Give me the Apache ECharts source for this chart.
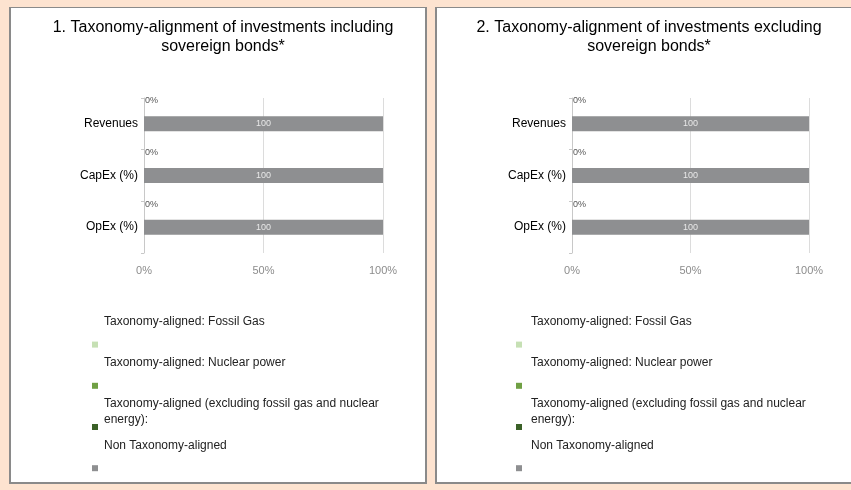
<!DOCTYPE html>
<html>
<head>
<meta charset="utf-8">
<script src="https://cdn.jsdelivr.net/npm/echarts@6/dist/echarts.min.js"></script>
<style>
  html, body { margin: 0; padding: 0; }
  body { width: 851px; height: 490px; background: #fde3d0; position: relative; overflow: hidden; }
  .panel { position: absolute; background: #fff; border: 1px solid #8a8a8a; border-left-width: 2px; border-right-width: 2px; border-bottom-width: 2px; box-sizing: border-box; }
  #main { position: absolute; left: 0; top: 0; width: 851px; height: 490px; }
</style>
</head>
<body>
<div class="panel" style="left:9px; top:7px; width:418px; height:477px;"></div>
<div class="panel" style="left:435px; top:7px; width:420px; height:477px;"></div>
<div id="main"></div>
<script>
// 数据
var categories = ['Revenues', 'CapEx (%)', 'OpEx (%)'];
var seriesNames = [
    'Taxonomy-aligned: Fossil Gas',
    'Taxonomy-aligned: Nuclear power',
    'Taxonomy-aligned (excluding fossil gas and nuclear energy):',
    'Non Taxonomy-aligned'
];
var seriesColors = ['#c6e0b4', '#70a044', '#3b6128', '#8e8f91'];
var xTicks = [0, 50, 100];

// 1. including sovereign bonds
var inclFossilGas = [0, 0, 0];
var inclNuclear = [0, 0, 0];
var inclAligned = [0, 0, 0];
var inclNonAligned = [100, 100, 100];

// 2. excluding sovereign bonds
var exclFossilGas = [0, 0, 0];
var exclNuclear = [0, 0, 0];
var exclAligned = [0, 0, 0];
var exclNonAligned = [100, 100, 100];

var titles = [
    '1. Taxonomy-alignment of investments including\nsovereign bonds*',
    '2. Taxonomy-alignment of investments excluding\nsovereign bonds*'
];

var myChart = echarts.init(document.getElementById('main'));

// 图例文字：文字在色块上方
var legendLines = {};
legendLines[seriesNames[0]] = seriesNames[0] + '\n\n\n';
legendLines[seriesNames[1]] = seriesNames[1] + '\n\n\n';
legendLines[seriesNames[2]] = 'Taxonomy-aligned (excluding fossil gas and nuclear\nenergy):\n\n';
legendLines[seriesNames[3]] = seriesNames[3] + '\n\n\n';

function makeSeries(gridIdx, values) {
    return values.map(function(v, i) {
        var last = i === values.length - 1;
        return {
            name: seriesNames[i],
            type: 'bar',
            stack: 'total' + gridIdx,
            xAxisIndex: gridIdx,
            yAxisIndex: gridIdx,
            barWidth: 15,
            data: v,
            itemStyle: { color: seriesColors[i] },
            label: last ? {
                show: true,
                position: 'inside',
                formatter: '{c}',
                color: '#e8e8e8',
                fontSize: 9,
                fontFamily: 'Liberation Sans'
            } : (i === 0 ? {
                show: true,
                position: 'right',
                distance: 1,
                offset: [0, -23],
                formatter: '{c}%',
                color: '#555',
                fontSize: 9,
                fontFamily: 'Liberation Sans'
            } : { show: false }),
            emphasis: { disabled: true },
            animation: false
        };
    });
}

var gridLefts = [144, 572];
var gridWidths = [239, 237];
var titleCenters = [218, 644];
var legendLefts = [92, 516];

var option = {
    title: titles.map(function(t, k) {
        return {
            text: t,
            left: titleCenters[k],
            top: 13,
            textAlign: 'center',
            textStyle: { fontFamily: 'Liberation Sans', fontSize: 16, fontWeight: 'normal', color: '#000', lineHeight: 19 }
        };
    }),
    legend: [0, 1].map(function(k) {
        return {
            orient: 'vertical',
            left: legendLefts[k],
            top: 314,
            height: 220,
            padding: 0,
            itemGap: -20,
            itemWidth: 6,
            itemHeight: 6,
            icon: 'rect',
            selectedMode: false,
            data: seriesNames,
            formatter: function(name) { return legendLines[name]; },
            textStyle: { fontFamily: 'Liberation Sans', fontSize: 12, color: '#222', lineHeight: 15.3, padding: [0, 0, 0, k === 0 ? 1 : 4] }
        };
    }),
    grid: [0, 1].map(function(k) {
        return { left: gridLefts[k], top: 98, width: gridWidths[k], height: 155 };
    }),
    xAxis: [0, 1].map(function(k) {
        return {
            type: 'value',
            gridIndex: k,
            min: xTicks[0],
            max: xTicks[xTicks.length - 1],
            interval: xTicks[1] - xTicks[0],
            axisLine: { show: false },
            axisTick: { show: false },
            splitLine: { lineStyle: { color: '#dcdcdc', width: 1 } },
            axisLabel: { formatter: '{value}%', color: '#8c8c8c', fontSize: 11, fontFamily: 'Liberation Sans', margin: 12 }
        };
    }),
    yAxis: [0, 1].map(function(k) {
        return {
            type: 'category',
            gridIndex: k,
            data: categories,
            inverse: true,
            axisLine: { lineStyle: { color: '#c8c8c8' } },
            axisTick: { show: true, length: 3, lineStyle: { color: '#c8c8c8' } },
            axisLabel: { color: '#000', fontSize: 12, fontFamily: 'Liberation Sans', margin: 6 }
        };
    }),
    series: makeSeries(0, [inclFossilGas, inclNuclear, inclAligned, inclNonAligned])
        .concat(makeSeries(1, [exclFossilGas, exclNuclear, exclAligned, exclNonAligned]))
};

myChart.setOption(option);
</script>
</body>
</html>
